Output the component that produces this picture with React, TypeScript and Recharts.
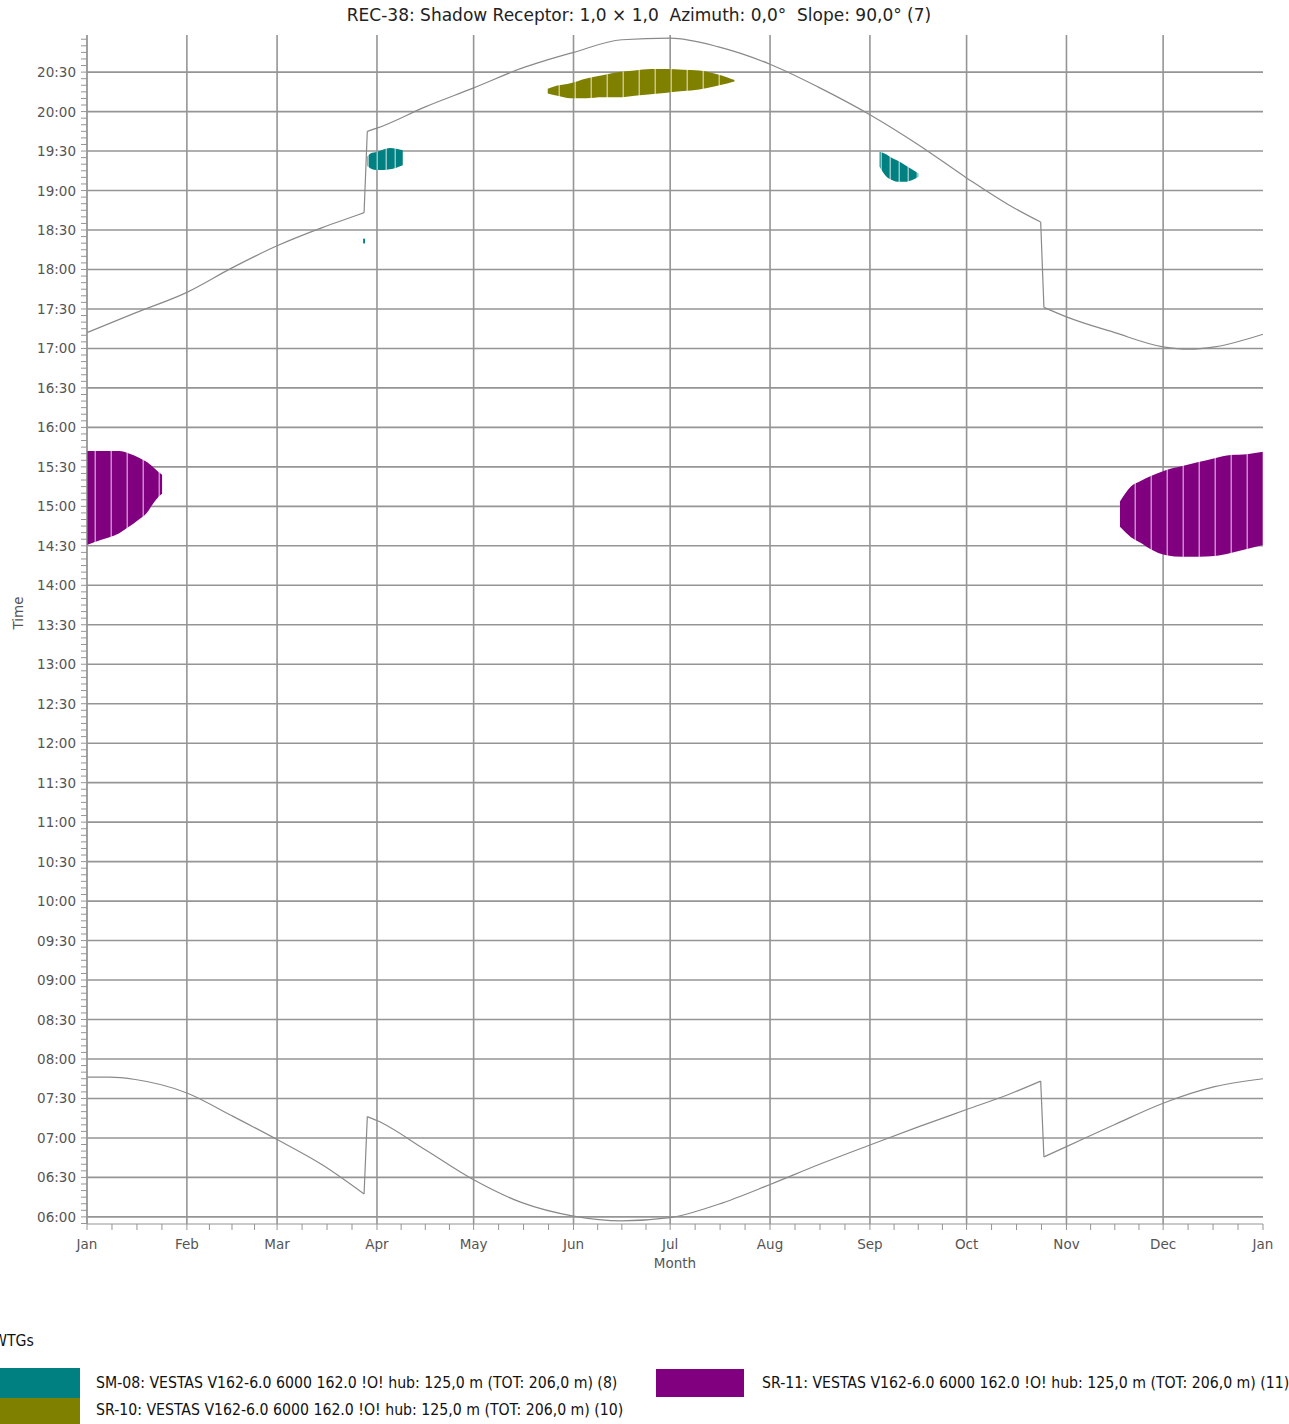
import { Area, CartesianGrid, ComposedChart, Line, XAxis, YAxis } from "recharts";

const MONTH_DAYS = [0, 31, 59, 90, 120, 151, 181, 212, 243, 273, 304, 334, 365];
const MONTH_LABELS = ["Jan", "Feb", "Mar", "Apr", "May", "Jun", "Jul", "Aug", "Sep", "Oct", "Nov", "Dec", "Jan"];

const TIME_TICKS = [6, 6.5, 7, 7.5, 8, 8.5, 9, 9.5, 10, 10.5, 11, 11.5, 12, 12.5, 13, 13.5, 14, 14.5, 15, 15.5, 16, 16.5, 17, 17.5, 18, 18.5, 19, 19.5, 20, 20.5];
const TIME_LABELS = ["06:00", "06:30", "07:00", "07:30", "08:00", "08:30", "09:00", "09:30", "10:00", "10:30", "11:00", "11:30", "12:00", "12:30", "13:00", "13:30", "14:00", "14:30", "15:00", "15:30", "16:00", "16:30", "17:00", "17:30", "18:00", "18:30", "19:00", "19:30", "20:00", "20:30"];

// sunset / sunrise as [day, hour], split where the clock changes (DST)
const SUNSET_WINTER1: [number, number][] = [
  [0, 17.2], [15, 17.45], [31, 17.71], [45, 18.02], [59, 18.3], [73, 18.53], [84, 18.69], [86, 18.72],
];
const SUNSET_SUMMER: [number, number][] = [
  [87, 19.75], [90, 19.79], [105, 20.06], [120, 20.3], [135, 20.55], [151, 20.75], [166, 20.91],
  [181, 20.93], [196, 20.82], [212, 20.6], [227, 20.31], [243, 19.96], [258, 19.58], [273, 19.16],
  [286, 18.82], [296, 18.6],
];
const SUNSET_WINTER2: [number, number][] = [
  [297, 17.52], [304, 17.4], [319, 17.2], [334, 17.02], [342, 16.99], [350, 17.02], [365, 17.18],
];

const SUNRISE_WINTER1: [number, number][] = [
  [0, 7.77], [7, 7.77], [15, 7.74], [31, 7.57], [45, 7.28], [59, 6.98], [73, 6.66], [86, 6.29],
];
const SUNRISE_SUMMER: [number, number][] = [
  [87, 7.27], [90, 7.22], [105, 6.85], [120, 6.47], [135, 6.18], [151, 6.01], [166, 5.95],
  [181, 5.99], [196, 6.16], [212, 6.41], [227, 6.66], [243, 6.91], [258, 7.14], [273, 7.36],
  [286, 7.55], [296, 7.72],
];
const SUNRISE_WINTER2: [number, number][] = [
  [297, 6.76], [304, 6.89], [319, 7.17], [334, 7.44], [350, 7.65], [365, 7.75],
];

// shadow periods: [day, from, to]
const SM08_APR: [number, number, number][] = [
  [87, 19.31, 19.43], [88, 19.28, 19.47], [90, 19.26, 19.49], [92, 19.26, 19.52],
  [94, 19.27, 19.54], [96, 19.29, 19.53], [98, 19.32, 19.51],
];
const SM08_DOT: [number, number, number][] = [[85.7, 18.33, 18.39], [86.3, 18.33, 18.39]];
const SM08_SEP: [number, number, number][] = [
  [246, 19.3, 19.49], [248, 19.18, 19.46], [250, 19.13, 19.41], [252, 19.11, 19.37],
  [254, 19.11, 19.32], [256, 19.13, 19.27], [258, 19.17, 19.22],
];
const SR10_SUMMER: [number, number, number][] = [
  [143, 20.23, 20.29], [146, 20.2, 20.33], [150, 20.17, 20.36], [155, 20.17, 20.42],
  [160, 20.18, 20.46], [165, 20.18, 20.5], [170, 20.2, 20.52], [175, 20.22, 20.54],
  [180, 20.24, 20.54], [185, 20.26, 20.53], [190, 20.28, 20.52], [195, 20.32, 20.48],
  [199, 20.36, 20.43], [201, 20.38, 20.4],
];
const SR11_JAN: [number, number, number][] = [
  [0, 14.51, 15.7], [4, 14.57, 15.7], [10, 14.66, 15.7], [13, 14.74, 15.67],
  [16, 14.83, 15.62], [18.6, 14.92, 15.56], [21, 15.06, 15.48], [22.7, 15.14, 15.42],
  [23.3, 15.16, 15.4],
];
const SR11_DEC: [number, number, number][] = [
  [320.6, 14.74, 15.06], [324, 14.61, 15.25], [327, 14.54, 15.32], [330, 14.46, 15.38],
  [335, 14.38, 15.46], [340, 14.36, 15.51], [345, 14.36, 15.56], [350, 14.37, 15.61],
  [355, 14.41, 15.65], [360, 14.46, 15.66], [365, 14.51, 15.69],
];

const TEAL = "#008080";
const OLIVE = "#808000";
const PURPLE = "#800080";
const GRID = "#959595";
const CURVE = "#8a8a8a";
const TICK_FONT = "'DejaVu Sans', sans-serif";

const toLine = (rows: [number, number][]) => rows.map(([day, h]) => ({ day, h }));
const toRange = (rows: [number, number, number][]) =>
  rows.map(([day, lo, hi]) => ({ day, range: [lo, hi] }));
// vertical step between two segments
const jump = (a: [number, number][], b: [number, number][]) => toLine([a[a.length - 1], b[0]]);

// minor ticks: quarter months on x, 5 minutes on y
const X_TICKS = [
  ...MONTH_DAYS,
  ...MONTH_DAYS.slice(0, -1).flatMap((d, i) =>
    [1, 2, 3].map((k) => d + ((MONTH_DAYS[i + 1] - d) * k) / 4)
  ),
].sort((a, b) => a - b);
const Y_TICKS = Array.from({ length: 181 }, (_, i) => 5 + 55 / 60 + i / 12);

function TimeTick(props: any) {
  const { x, y, payload } = props;
  const i = TIME_TICKS.findIndex((t) => Math.abs(t - payload.value) < 1e-6);
  return (
    <g>
      <line x1={x - 6} x2={x} y1={y} y2={y} stroke={GRID} />
      {i >= 0 && (
        <text x={x - 11} y={y} dy={5} textAnchor="end" fontSize={13.5} fontFamily={TICK_FONT} fill="#555">
          {TIME_LABELS[i]}
        </text>
      )}
    </g>
  );
}

function MonthTick(props: any) {
  const { x, y, payload } = props;
  const i = MONTH_DAYS.indexOf(payload.value);
  return (
    <g>
      <line x1={x} x2={x} y1={y} y2={y + 6} stroke={GRID} />
      {i >= 0 && (
        <text x={x} y={y + 25} textAnchor="middle" fontSize={13.5} fontFamily={TICK_FONT} fill="#555">
          {MONTH_LABELS[i]}
        </text>
      )}
    </g>
  );
}

function Stripes({ id, color, step }: { id: string; color: string; step: number }) {
  return (
    <pattern id={id} patternUnits="userSpaceOnUse" width={step} height={10}>
      <rect width={step} height={10} fill={color} />
      <rect x={step - 1.5} width={1.5} height={10} fill="#ffffff" fillOpacity={0.55} />
    </pattern>
  );
}

const legendText = {
  position: "absolute" as const,
  fontFamily: "'DejaVu Sans Condensed', 'Liberation Sans Narrow', sans-serif",
  fontSize: 15.7,
  lineHeight: "18px",
  color: "#111",
  whiteSpace: "nowrap" as const,
};

const curveProps = {
  dataKey: "h",
  stroke: CURVE,
  strokeWidth: 1.2,
  dot: false,
  isAnimationActive: false,
};

export default function App() {
  return (
    <div
      style={{
        position: "absolute",
        left: 0,
        top: 0,
        width: 1289,
        height: 1424,
        background: "#fff",
        overflow: "hidden",
        fontFamily: TICK_FONT,
      }}
    >
      <div
        style={{
          position: "absolute",
          left: 0,
          top: 4,
          width: 1278,
          textAlign: "center",
          fontSize: 17,
          lineHeight: "22px",
          color: "#222",
        }}
      >
        REC-38: Shadow Receptor: 1,0 × 1,0&nbsp; Azimuth: 0,0°&nbsp; Slope: 90,0° (7)
      </div>

      <div style={{ position: "absolute", left: 0, top: 0 }}>
        <ComposedChart
          width={1289}
          height={1290}
          margin={{ top: 35, right: 26, left: 0, bottom: 16 }}
        >
          <defs>
            <Stripes id="stTeal" color={TEAL} step={9} />
            <Stripes id="stOlive" color={OLIVE} step={16} />
            <Stripes id="stPurple" color={PURPLE} step={16} />
          </defs>
          <CartesianGrid
            horizontalValues={TIME_TICKS}
            verticalValues={MONTH_DAYS.slice(0, -1)}
            stroke={GRID}
            strokeWidth={1.6}
          />
          <XAxis
            dataKey="day"
            type="number"
            domain={[0, 365]}
            ticks={X_TICKS}
            interval={0}
            tickSize={0}
            tickMargin={0}
            tick={<MonthTick />}
            height={50}
            stroke={GRID}
            label={{ value: "Month", position: "insideBottom", offset: 6, fontSize: 13.5, fontFamily: TICK_FONT, fill: "#555" }}
          />
          <YAxis
            type="number"
            domain={[5.91, 20.97]}
            ticks={Y_TICKS}
            interval={0}
            tickSize={0}
            tickMargin={0}
            tick={<TimeTick />}
            width={87}
            stroke={GRID}
            allowDataOverflow
            label={{ value: "Time", angle: -90, position: "insideLeft", offset: 18, fontSize: 13.5, fontFamily: TICK_FONT, fill: "#555" }}
          />
          <Area data={toRange(SR11_JAN)} dataKey="range" type="monotone" stroke="none" fill="url(#stPurple)" fillOpacity={1} isAnimationActive={false} />
          <Area data={toRange(SR11_DEC)} dataKey="range" type="monotone" stroke="none" fill="url(#stPurple)" fillOpacity={1} isAnimationActive={false} />
          <Area data={toRange(SR10_SUMMER)} dataKey="range" type="monotone" stroke="none" fill="url(#stOlive)" fillOpacity={1} isAnimationActive={false} />
          <Area data={toRange(SM08_APR)} dataKey="range" type="monotone" stroke="none" fill="url(#stTeal)" fillOpacity={1} isAnimationActive={false} />
          <Area data={toRange(SM08_DOT)} dataKey="range" type="linear" stroke="none" fill={TEAL} fillOpacity={1} isAnimationActive={false} />
          <Area data={toRange(SM08_SEP)} dataKey="range" type="monotone" stroke="none" fill="url(#stTeal)" fillOpacity={1} isAnimationActive={false} />

          <Line data={toLine(SUNSET_WINTER1)} type="monotone" {...curveProps} />
          <Line data={jump(SUNSET_WINTER1, SUNSET_SUMMER)} type="linear" {...curveProps} />
          <Line data={toLine(SUNSET_SUMMER)} type="monotone" {...curveProps} />
          <Line data={jump(SUNSET_SUMMER, SUNSET_WINTER2)} type="linear" {...curveProps} />
          <Line data={toLine(SUNSET_WINTER2)} type="monotone" {...curveProps} />

          <Line data={toLine(SUNRISE_WINTER1)} type="monotone" {...curveProps} />
          <Line data={jump(SUNRISE_WINTER1, SUNRISE_SUMMER)} type="linear" {...curveProps} />
          <Line data={toLine(SUNRISE_SUMMER)} type="monotone" {...curveProps} />
          <Line data={jump(SUNRISE_SUMMER, SUNRISE_WINTER2)} type="linear" {...curveProps} />
          <Line data={toLine(SUNRISE_WINTER2)} type="monotone" {...curveProps} />
        </ComposedChart>
      </div>

      <div style={{ ...legendText, left: -7, top: 1332 }}>WTGs</div>
      <div style={{ position: "absolute", left: 0, top: 1368, width: 80, height: 30, background: TEAL }} />
      <div style={{ position: "absolute", left: 0, top: 1398, width: 80, height: 30, background: OLIVE }} />
      <div style={{ position: "absolute", left: 656, top: 1369, width: 88, height: 28, background: PURPLE }} />
      <div style={{ ...legendText, left: 96, top: 1374 }}>
        SM-08: VESTAS V162-6.0 6000 162.0 !O! hub: 125,0 m (TOT: 206,0 m) (8)
      </div>
      <div style={{ ...legendText, left: 96, top: 1401 }}>
        SR-10: VESTAS V162-6.0 6000 162.0 !O! hub: 125,0 m (TOT: 206,0 m) (10)
      </div>
      <div style={{ ...legendText, left: 762, top: 1374 }}>
        SR-11: VESTAS V162-6.0 6000 162.0 !O! hub: 125,0 m (TOT: 206,0 m) (11)
      </div>
    </div>
  );
}
